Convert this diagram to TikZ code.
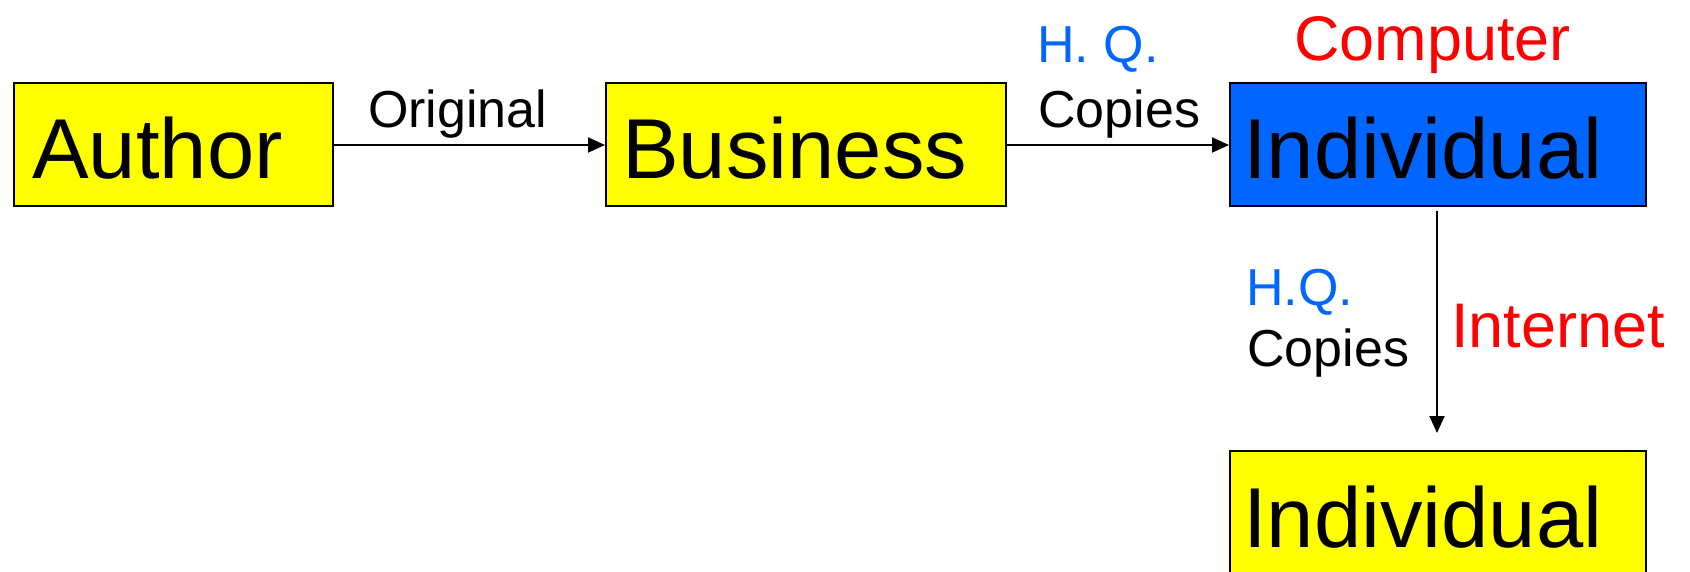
\documentclass[tikz,border=0pt]{standalone}
\usepackage{fontspec}
\setmainfont{Liberation Sans}
\usetikzlibrary{arrows.meta}
\definecolor{boxyellow}{RGB}{255,255,0}
\definecolor{boxblue}{RGB}{0,102,255}
\definecolor{hqblue}{RGB}{0,102,255}
\definecolor{netred}{RGB}{255,0,0}
\tikzset{
  box/.style={draw=black, line width=2pt, minimum width=319pt, minimum height=123pt, inner sep=0pt, anchor=north west},
  bigtext/.style={inner sep=0pt, anchor=base west, font=\fontsize{85}{100}\selectfont},
  midtext/.style={inner sep=0pt, anchor=base west, font=\fontsize{52}{60}\selectfont},
  redtext/.style={inner sep=0pt, anchor=base west, text=netred, font=\fontsize{63}{72}\selectfont},
  conn/.style={line width=2pt, -{Triangle[length=17pt,width=15pt]}}
}
\begin{document}
\begin{tikzpicture}[x=1pt,y=-1pt]
\useasboundingbox (0,0) rectangle (1690,571);
\clip (0,0) rectangle (1690,571);
% boxes
\node[box, fill=boxyellow, minimum width=319pt] (author) at (13,82) {};
\node[box, fill=boxyellow, minimum width=400pt] (business) at (605,82) {};
\node[box, fill=boxblue, minimum width=416pt] (indiv1) at (1229,82) {};
\node[box, fill=boxyellow, minimum width=416pt] (indiv2) at (1229,450) {};
% box texts
\node[bigtext] (tauthor) at (32,178) {Author};
\node[bigtext] (tbusiness) at (622,178) {Business};
\node[bigtext] (tindiv1) at (1243,178) {Individual};
\node[bigtext] (tindiv2) at (1243,547) {Individual};
% connector end points
\coordinate (vstart) at (1437,211);
\coordinate (vend) at (1437,433);
% connectors
\draw[conn] (author.east |- 0,145) -- (business.west |- 0,145);
\draw[conn] (business.east |- 0,145) -- (indiv1.west |- 0,145);
\draw[conn] (vstart) -- (vend);
% labels
\node[midtext] (loriginal) at (368,127) {Original};
\node[midtext, text=hqblue] (lhq1) at (1037,62) {H. Q.};
\node[midtext] (lcopies1) at (1038,127) {Copies};
\node[redtext] (lcomputer) at (1294,60) {Computer};
\node[midtext, text=hqblue] (lhq2) at (1246,305) {H.Q.};
\node[midtext] (lcopies2) at (1247,366) {Copies};
\node[redtext] (linternet) at (1451,347) {Internet};
\end{tikzpicture}
\end{document}
